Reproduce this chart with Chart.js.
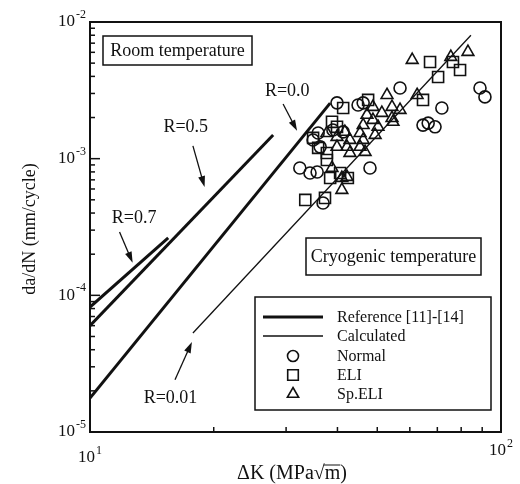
<!DOCTYPE html>
<html>
<head>
<meta charset="utf-8">
<script src="https://cdn.jsdelivr.net/npm/chart.js@4.4.0/dist/chart.umd.min.js"></script>
<style>
  html, body { margin: 0; padding: 0; background: #fff; }
  #wrap { width: 520px; height: 484px; }
</style>
</head>
<body>
<div id="wrap"><canvas id="crackChart" width="520" height="484"></canvas></div>
<script>
// Reference lines [11]-[14] (room temperature), endpoints
const refR07X = [10, 15.5];
const refR07Y = [8.2e-5, 2.63e-4];
const refR05X = [10, 27.9];
const refR05Y = [6.0e-5, 1.49e-3];
const refR00X = [10, 38.4];
const refR00Y = [1.77e-5, 2.55e-3];

// Calculated line, R=0.01 (cryogenic)
const calcX = [17.8, 84.5];
const calcY = [5.3e-5, 8.0e-3];

// Measured data, cryogenic temperature
const normalX = [56.8, 88.9, 91.4, 71.8, 64.6, 66.5, 69.1, 39.9, 44.9, 46.2, 35.9, 34.9, 36.3, 32.4, 34.3, 35.7, 48.0, 36.9, 39.0, 41.3];
const normalY = [3.29e-3, 3.29e-3, 2.83e-3, 2.35e-3, 1.76e-3, 1.82e-3, 1.71e-3, 2.56e-3, 2.47e-3, 2.56e-3, 1.54e-3, 1.37e-3, 1.22e-3, 8.55e-4, 7.86e-4, 7.99e-4, 8.55e-4, 4.74e-4, 1.62e-3, 1.57e-3];

const eliX = [67.2, 70.3, 79.5, 76.4, 47.5, 64.6, 41.3, 38.8, 39.9, 34.9, 35.9, 37.7, 37.7, 40.6, 42.4, 38.4, 33.4, 37.3];
const eliY = [5.10e-3, 3.96e-3, 4.45e-3, 5.10e-3, 2.69e-3, 2.69e-3, 2.35e-3, 1.86e-3, 1.71e-3, 1.42e-3, 1.20e-3, 1.10e-3, 9.78e-4, 7.86e-4, 7.22e-4, 7.22e-4, 4.99e-4, 5.16e-4];

const speliX = [60.8, 75.5, 83.1, 52.8, 62.5, 48.8, 54.3, 56.8, 51.3, 47.2, 54.3, 48.8, 46.2, 50.2, 54.6, 41.7, 37.7, 45.4, 49.4, 39.9, 42.9, 46.2, 39.9, 42.2, 45.4, 42.9, 46.7, 38.8, 41.0, 42.2, 41.0];
const speliY = [5.27e-3, 5.55e-3, 6.03e-3, 2.92e-3, 2.92e-3, 2.39e-3, 2.39e-3, 2.27e-3, 2.16e-3, 2.09e-3, 1.98e-3, 1.92e-3, 1.76e-3, 1.71e-3, 1.86e-3, 1.57e-3, 1.54e-3, 1.54e-3, 1.49e-3, 1.44e-3, 1.37e-3, 1.37e-3, 1.22e-3, 1.22e-3, 1.22e-3, 1.10e-3, 1.12e-3, 8.55e-4, 7.22e-4, 7.35e-4, 5.90e-4];

// Stress-ratio labels: text position and arrow (from -> to), in data units
const rLabels = ["R=0.7", "R=0.5", "R=0.0", "R=0.01"];
const rLabelX = [12.8, 17.1, 30.2, 15.7];
const rLabelY = [3.68e-4, 1.71e-3, 3.13e-3, 1.77e-5];
const rArrowFromX = [11.8, 17.8, 29.5, 16.1];
const rArrowFromY = [2.91e-4, 1.24e-3, 2.51e-3, 2.41e-5];
const rArrowToX = [12.7, 19.0, 31.9, 17.7];
const rArrowToY = [1.73e-4, 6.2e-4, 1.60e-3, 4.56e-5];

const legendLabels = ["Reference [11]-[14]", "Calculated", "Normal", "ELI", "Sp.ELI"];

const SERIF = '"Liberation Serif", "Times New Roman", serif';

function pts(xs, ys) {
  return xs.map((x, i) => ({ x: x, y: ys[i] }));
}

function lineSet(xs, ys, width) {
  return {
    type: "line",
    data: pts(xs, ys),
    borderColor: "#111",
    borderWidth: width,
    pointRadius: 0,
    fill: false,
  };
}

function markerSet(xs, ys, style, radius) {
  return {
    type: "scatter",
    data: pts(xs, ys),
    pointStyle: style,
    pointRadius: radius,
    pointBorderWidth: 1.6,
    borderColor: "#111",
    backgroundColor: "rgba(0,0,0,0)",
    showLine: false,
  };
}

// draws "10" with a superscript exponent
function powLabel(ctx, exp, x, y, align) {
  ctx.font = "17px " + SERIF;
  const wBase = ctx.measureText("10").width;
  ctx.font = "12px " + SERIF;
  const wExp = ctx.measureText(exp).width;
  const left = align === "right" ? x - wBase - wExp - 1 : x - (wBase + wExp + 1) / 2;
  ctx.textAlign = "left";
  ctx.textBaseline = "middle";
  ctx.font = "17px " + SERIF;
  ctx.fillText("10", left, y);
  ctx.font = "12px " + SERIF;
  ctx.fillText(exp, left + wBase + 1, y - 7);
}

function arrow(ctx, x1, y1, x2, y2) {
  const ang = Math.atan2(y2 - y1, x2 - x1);
  const head = 11, half = 3.5;
  ctx.beginPath();
  ctx.moveTo(x1, y1);
  ctx.lineTo(x2 - Math.cos(ang) * head * 0.8, y2 - Math.sin(ang) * head * 0.8);
  ctx.stroke();
  ctx.beginPath();
  ctx.moveTo(x2, y2);
  ctx.lineTo(x2 - Math.cos(ang) * head - Math.sin(ang) * half, y2 - Math.sin(ang) * head + Math.cos(ang) * half);
  ctx.lineTo(x2 - Math.cos(ang) * head + Math.sin(ang) * half, y2 - Math.sin(ang) * head - Math.cos(ang) * half);
  ctx.closePath();
  ctx.fill();
}

function textBox(ctx, text, left, top, right, bottom) {
  ctx.lineWidth = 1.5;
  ctx.strokeRect(left, top, right - left, bottom - top);
  ctx.font = "18px " + SERIF;
  ctx.textAlign = "center";
  ctx.textBaseline = "middle";
  ctx.fillText(text, (left + right) / 2, (top + bottom) / 2 + 1);
}

const decorPlugin = {
  id: "decor",
  afterDraw(chart) {
    const ctx = chart.ctx;
    const xs = chart.scales.x, ys = chart.scales.y;
    const a = chart.chartArea;
    ctx.save();
    ctx.strokeStyle = "#111";
    ctx.fillStyle = "#111";

    // frame
    ctx.lineWidth = 2;
    ctx.strokeRect(a.left, a.top, a.right - a.left, a.bottom - a.top);

    // inward ticks, left axis
    ctx.lineWidth = 1.5;
    for (let e = -5; e <= -2; e++) {
      for (let m = 1; m <= 9; m++) {
        if (e === -2 && m > 1) break;
        const py = ys.getPixelForValue(m * Math.pow(10, e));
        const len = m === 1 ? 10 : 5;
        ctx.beginPath();
        ctx.moveTo(a.left, py);
        ctx.lineTo(a.left + len, py);
        ctx.stroke();
      }
      powLabel(ctx, String(e), 86, ys.getPixelForValue(Math.pow(10, e)), "right");
    }
    // inward ticks, bottom axis
    for (let m = 2; m <= 9; m++) {
      const px = xs.getPixelForValue(m * 10);
      ctx.beginPath();
      ctx.moveTo(px, a.bottom);
      ctx.lineTo(px, a.bottom - 5);
      ctx.stroke();
    }
    powLabel(ctx, "1", xs.getPixelForValue(10), 458, "center");
    powLabel(ctx, "2", xs.getPixelForValue(100), 451, "center");

    // axis titles
    ctx.font = "18px " + SERIF;
    ctx.textAlign = "center";
    ctx.textBaseline = "middle";
    ctx.save();
    ctx.translate(30, 229);
    ctx.rotate(-Math.PI / 2);
    ctx.fillText("da/dN (mm/cycle)", 0, 0);
    ctx.restore();

    ctx.font = "20px " + SERIF;
    const xTitle = "\u0394K (MPa\u221Am)";
    const tw = ctx.measureText(xTitle).width;
    const tx = 292 - tw / 2, ty = 474;
    ctx.textAlign = "left";
    ctx.fillText(xTitle, tx, ty);
    const wPre = ctx.measureText("\u0394K (MPa\u221A").width;
    const wM = ctx.measureText("m").width;
    ctx.lineWidth = 1;
    ctx.beginPath();
    ctx.moveTo(tx + wPre - 1, ty - 9);
    ctx.lineTo(tx + wPre + wM, ty - 9);
    ctx.stroke();

    // condition boxes
    textBox(ctx, "Room temperature", 103, 36, 252, 65);
    textBox(ctx, "Cryogenic temperature", 306, 238, 481, 275);

    // stress ratio labels + arrows
    ctx.lineWidth = 1.3;
    rLabels.forEach((t, i) => {
      ctx.font = "18px " + SERIF;
      ctx.textAlign = "center";
      ctx.textBaseline = "middle";
      ctx.fillText(t, xs.getPixelForValue(rLabelX[i]), ys.getPixelForValue(rLabelY[i]));
      arrow(ctx,
        xs.getPixelForValue(rArrowFromX[i]), ys.getPixelForValue(rArrowFromY[i]),
        xs.getPixelForValue(rArrowToX[i]), ys.getPixelForValue(rArrowToY[i]));
    });

    // legend
    const lg = { left: 255, top: 297, right: 491, bottom: 410 };
    ctx.lineWidth = 1.5;
    ctx.strokeRect(lg.left, lg.top, lg.right - lg.left, lg.bottom - lg.top);
    const rowY = [317, 336, 356, 375, 394];
    ctx.lineWidth = 3;
    ctx.beginPath(); ctx.moveTo(263, rowY[0]); ctx.lineTo(323, rowY[0]); ctx.stroke();
    ctx.lineWidth = 1.3;
    ctx.beginPath(); ctx.moveTo(263, rowY[1]); ctx.lineTo(323, rowY[1]); ctx.stroke();
    ctx.lineWidth = 1.6;
    ctx.fillStyle = "rgba(0,0,0,0)";
    Chart.helpers.drawPoint(ctx, { pointStyle: "circle", radius: 5.5, borderWidth: 1.6 }, 293, rowY[2]);
    Chart.helpers.drawPoint(ctx, { pointStyle: "rect", radius: 7.5, borderWidth: 1.6 }, 293, rowY[3]);
    Chart.helpers.drawPoint(ctx, { pointStyle: "triangle", radius: 6.5, borderWidth: 1.6 }, 293, rowY[4]);
    ctx.fillStyle = "#111";
    ctx.font = "16px " + SERIF;
    ctx.textAlign = "left";
    ctx.textBaseline = "middle";
    legendLabels.forEach((t, i) => ctx.fillText(t, 337, rowY[i] + 1));

    ctx.restore();
  },
};

const ctx = document.getElementById("crackChart").getContext("2d");
const crackChart = new Chart(ctx, {
  type: "scatter",
  data: {
    datasets: [
      markerSet(normalX, normalY, "circle", 6),
      markerSet(eliX, eliY, "rect", 7.8),
      markerSet(speliX, speliY, "triangle", 6.8),
      lineSet(refR07X, refR07Y, 3),
      lineSet(refR05X, refR05Y, 3),
      lineSet(refR00X, refR00Y, 3),
      lineSet(calcX, calcY, 1.3),
    ],
  },
  options: {
    responsive: false,
    animation: false,
    layout: { padding: { top: 22, right: 19, left: 0, bottom: 0 } },
    plugins: {
      legend: { display: false },
      tooltip: { enabled: false },
    },
    scales: {
      x: {
        type: "logarithmic",
        min: 10,
        max: 100,
        grid: { display: false },
        border: { display: false },
        ticks: { display: false },
        afterFit(scale) { scale.height = 52; },
      },
      y: {
        type: "logarithmic",
        min: 1e-5,
        max: 1e-2,
        grid: { display: false },
        border: { display: false },
        ticks: { display: false },
        afterFit(scale) { scale.width = 90; },
      },
    },
  },
  plugins: [decorPlugin],
});
</script>
</body>
</html>
